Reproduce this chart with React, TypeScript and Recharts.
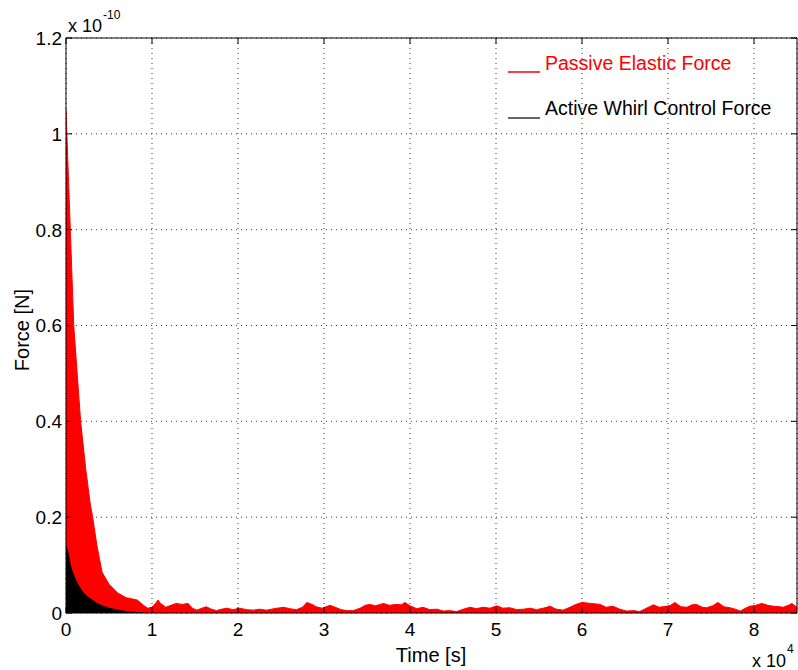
import React from 'react';
import { AreaChart, Area, XAxis, YAxis, CartesianGrid, ReferenceLine } from 'recharts';

// time in units of 1e4 s
const times = [
  0, 0.01, 0.03, 0.05, 0.07, 0.09, 0.13, 0.17, 0.2, 0.23, 0.28, 0.31, 0.36, 0.42, 0.5, 0.6, 0.7, 0.83, 0.9, 0.95,
  1.0, 1.04, 1.07, 1.1, 1.16, 1.22, 1.28, 1.35, 1.42, 1.47, 1.52, 1.58, 1.63, 1.69, 1.75, 1.81, 1.87, 1.94,
  2.02, 2.1, 2.18, 2.25, 2.33, 2.42, 2.53, 2.6, 2.68, 2.75, 2.8, 2.86, 2.91, 2.98, 3.07, 3.13, 3.2, 3.27,
  3.34, 3.42, 3.48, 3.53, 3.6, 3.69, 3.76, 3.84, 3.9, 3.94, 4.0, 4.08, 4.15, 4.23, 4.31, 4.39, 4.46, 4.54,
  4.62, 4.7, 4.77, 4.85, 4.93, 5.01, 5.08, 5.16, 5.24, 5.32, 5.4, 5.47, 5.55, 5.63, 5.7, 5.78, 5.86, 5.93,
  6.0, 6.1, 6.21, 6.28, 6.36, 6.44, 6.52, 6.6, 6.67, 6.75, 6.83, 6.9, 6.98, 7.03, 7.08, 7.15, 7.22, 7.28,
  7.33, 7.4, 7.45, 7.52, 7.58, 7.65, 7.72, 7.78, 7.84, 7.9, 7.95, 8.02, 8.09, 8.16, 8.23, 8.3, 8.34, 8.4,
  8.44, 8.5,
];

// passive elastic force envelope, units of 1e-10 N
const passiveForce = [
  1.05, 1.0, 0.9, 0.8, 0.7, 0.6, 0.5, 0.4, 0.35, 0.3, 0.23, 0.2, 0.14, 0.085, 0.06, 0.042, 0.032, 0.027, 0.016, 0.01,
  0.012, 0.02, 0.027, 0.02, 0.012, 0.016, 0.02, 0.018, 0.02, 0.01, 0.006, 0.01, 0.013, 0.008, 0.005, 0.008, 0.01, 0.007,
  0.01, 0.007, 0.006, 0.008, 0.006, 0.009, 0.012, 0.009, 0.007, 0.012, 0.022, 0.018, 0.013, 0.01, 0.016, 0.012, 0.007, 0.005,
  0.005, 0.01, 0.016, 0.018, 0.015, 0.02, 0.016, 0.018, 0.017, 0.022, 0.015, 0.009, 0.012, 0.007, 0.008, 0.004, 0.005, 0.003,
  0.008, 0.012, 0.009, 0.012, 0.01, 0.015, 0.01, 0.011, 0.007, 0.008, 0.01, 0.007, 0.01, 0.014, 0.008, 0.006, 0.012, 0.018,
  0.022, 0.02, 0.018, 0.012, 0.014, 0.008, 0.004, 0.005, 0.003, 0.01, 0.017, 0.012, 0.014, 0.016, 0.022, 0.013, 0.012, 0.017,
  0.018, 0.012, 0.011, 0.015, 0.022, 0.013, 0.011, 0.008, 0.004, 0.01, 0.014, 0.016, 0.02, 0.016, 0.014, 0.013, 0.012, 0.016,
  0.02, 0.012,
];

// active whirl control force envelope (dies out before 1e4 s)
const activeForce = [
  0.14, 0.135, 0.12, 0.1, 0.088, 0.078, 0.062, 0.05, 0.043, 0.037, 0.03, 0.026, 0.02, 0.015, 0.01, 0.006, 0.003, 0.001, 0,
];

const xTicks = [0, 1, 2, 3, 4, 5, 6, 7, 8];
const yTicks = [0, 0.2, 0.4, 0.6, 0.8, 1, 1.2];
const yTickLabels = ['0', '0.2', '0.4', '0.6', '0.8', '1', '1.2'];

const rows = times.map((t, i) => ({
  t,
  passive: passiveForce[i],
  active: i < activeForce.length ? activeForce[i] : null,
}));

const W = 798;
const H = 670;
const LEFT = 66;
const RIGHT = 797;
const TOP = 38;
const BOTTOM = 613;
const TICK = 6;
const FONT = '"Liberation Sans", Arial, Helvetica, sans-serif';

const XTick = (props: any) => {
  const { x, payload } = props;
  return (
    <g>
      <line x1={x} x2={x} y1={BOTTOM} y2={BOTTOM - TICK} stroke="#000" />
      <line x1={x} x2={x} y1={TOP} y2={TOP + TICK} stroke="#000" />
      <text x={x} y={636} textAnchor="middle" fontSize={19} fontFamily={FONT} fill="#000">
        {payload.value}
      </text>
    </g>
  );
};

const YTick = (props: any) => {
  const { y, payload } = props;
  const idx = yTicks.indexOf(payload.value);
  return (
    <g>
      <line x1={LEFT} x2={LEFT + TICK} y1={y} y2={y} stroke="#000" />
      <line x1={RIGHT - TICK} x2={RIGHT} y1={y} y2={y} stroke="#000" />
      <text x={62} y={y} dy="0.36em" textAnchor="end" fontSize={19} fontFamily={FONT} fill="#000">
        {idx >= 0 ? yTickLabels[idx] : payload.value}
      </text>
    </g>
  );
};

export default function App() {
  return (
    <div style={{ position: 'absolute', left: 0, top: 0, width: W, height: H, background: '#fff' }}>
      <AreaChart width={W} height={H} data={rows} margin={{ top: TOP, right: W - RIGHT, bottom: 0, left: 0 }}>
        <CartesianGrid stroke="#333" strokeDasharray="1 4" />
        <XAxis
          dataKey="t"
          type="number"
          domain={[0, 8.5]}
          ticks={xTicks}
          interval={0}
          height={H - BOTTOM}
          allowDataOverflow
          axisLine={{ stroke: '#000' }}
          tickLine={false}
          tick={<XTick />}
        />
        <YAxis
          type="number"
          domain={[0, 1.2]}
          ticks={yTicks}
          interval={0}
          width={LEFT}
          allowDataOverflow
          axisLine={{ stroke: '#000' }}
          tickLine={false}
          tick={<YTick />}
        />
        <Area
          type="linear"
          dataKey="passive"
          stroke="#ff0000"
          fill="#ff0000"
          fillOpacity={1}
          strokeWidth={1}
          isAnimationActive={false}
          dot={false}
          activeDot={false}
        />
        <Area
          type="linear"
          dataKey="active"
          stroke="#000"
          fill="#000"
          fillOpacity={1}
          strokeWidth={1}
          isAnimationActive={false}
          dot={false}
          activeDot={false}
        />
        <ReferenceLine x={8.5} stroke="#000" ifOverflow="extendDomain" />
        <ReferenceLine y={1.2} stroke="#000" ifOverflow="extendDomain" />
      </AreaChart>
      <svg
        width={W}
        height={H}
        style={{ position: 'absolute', left: 0, top: 0, pointerEvents: 'none' }}
        fontFamily={FONT}
      >
        <text x={68} y={32} fontSize={18} fill="#000">x 10</text>
        <text x={103} y={19} fontSize={12} fill="#000">-10</text>
        <text x={752} y={667} fontSize={18} fill="#000">x 10</text>
        <text x={787} y={653} fontSize={12} fill="#000">4</text>
        <text x={431} y={662} fontSize={20} textAnchor="middle" fill="#000">Time [s]</text>
        <text
          x={22}
          y={330}
          fontSize={20}
          textAnchor="middle"
          dominantBaseline="central"
          transform="rotate(-90 22 330)"
          fill="#000"
        >
          Force [N]
        </text>
        <line x1={508} x2={540} y1={72} y2={72} stroke="#ff0000" strokeWidth={1.5} />
        <text x={545} y={70} fontSize={19.5} fill="#ff0000">Passive Elastic Force</text>
        <line x1={508} x2={540} y1={118} y2={118} stroke="#333" strokeWidth={1.5} />
        <text x={545} y={115} fontSize={19.5} fill="#000">Active Whirl Control Force</text>
      </svg>
    </div>
  );
}
